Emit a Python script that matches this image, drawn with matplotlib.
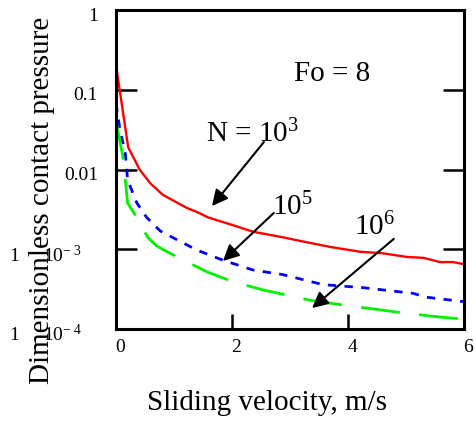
import matplotlib
matplotlib.use("Agg")
import matplotlib.pyplot as plt
import matplotlib.transforms as mtransforms

plt.rcParams['font.family'] = ['Liberation Serif', 'DejaVu Serif']
plt.rcParams['mathtext.fontset'] = 'custom'
plt.rcParams['mathtext.rm'] = 'Liberation Serif'
plt.rcParams['mathtext.it'] = 'Liberation Serif:italic'
plt.rcParams['mathtext.bf'] = 'Liberation Serif:bold'

# ---- data ----
v_n3 = [0.0, 0.21, 0.41, 0.60, 0.81, 1.22, 1.41, 1.59, 2.02, 2.36, 2.88, 3.09, 3.69, 4.21, 4.60, 5.02, 5.30, 5.59, 5.81, 6.0]
p_n3 = [0.204, 0.019, 0.0099, 0.0066, 0.0048, 0.0033, 0.0029, 0.0025, 0.0020, 0.00166, 0.00141, 0.00131, 0.00107,
        0.00093, 0.00089, 0.00080, 0.00078, 0.00069, 0.00069, 0.00065]

v_n5 = [0.0, 0.07, 0.16, 0.20, 0.36, 0.53, 0.76, 0.98, 1.39, 1.84, 2.36, 2.88, 3.57, 4.26, 5.12, 5.36, 6.0]
p_n5 = [0.068, 0.031, 0.016, 0.0074, 0.0038, 0.0025, 0.0017, 0.0014, 0.00098, 0.00073, 0.00055, 0.00048, 0.00036,
        0.00033, 0.00028, 0.00025, 0.00022]

v_n6 = [0.0, 0.12, 0.20, 0.33, 0.55, 0.70, 0.93, 1.57, 2.02, 2.53, 3.34, 3.91, 4.55, 4.95, 5.59, 6.0]
p_n6 = [0.040, 0.0144, 0.0038, 0.0027, 0.0014, 0.0011, 0.00089, 0.00052, 0.00039, 0.00031, 0.00023, 0.00020,
        0.000174, 0.000159, 0.000141, 0.000133]

x_ticks = [0, 2, 4, 6]
x_tick_labels = ["0", "2", "4", "6"]
y_ticks = [1e-4, 1e-3, 1e-2, 1e-1, 1]
y_tick_labels = [r"1     10$^{-\;4}$", r"1     10$^{-\;3}$", "0.01", "0.1", "1"]

fig = plt.figure(figsize=(4.76, 4.21), dpi=100)
ax = fig.add_axes([116/476, 1-329/421, 348/476, 319/421])

ax.plot(v_n3, p_n3, color=(1, 0, 0), lw=1.7)
ax.plot(v_n5, p_n5, color=(0, 0, 1), lw=2.0, dashes=(3, 3))
ax.plot(v_n6, p_n6, color=(0, 0.95, 0), lw=2.0, dashes=(14, 7))

ax.set_yscale('log')
ax.set_xlim(0, 6)
ax.set_ylim(1e-4, 1)
ax.set_xticks(x_ticks)
ax.set_xticklabels(x_tick_labels)
ax.set_yticks(y_ticks)
ax.set_yticklabels(y_tick_labels)
ax.minorticks_off()

for s in ax.spines.values():
    s.set_linewidth(2.2)

ax.tick_params(axis='y', which='major', direction='in', length=15, width=1.8, left=True, right=True,
               labelsize=14, pad=13)
ax.tick_params(axis='x', which='major', direction='in', length=11, width=1.8, top=False,
               labelsize=14, pad=7)

# nudge tick labels like the reference
off = mtransforms.ScaledTranslation(0, -4/100, fig.dpi_scale_trans)
for lab in ax.get_yticklabels():
    lab.set_transform(lab.get_transform() + off)
for lab in ax.get_yticklabels()[:2]:
    lab.set_transform(lab.get_transform() + mtransforms.ScaledTranslation(-16/100, 0, fig.dpi_scale_trans))
xoff = mtransforms.ScaledTranslation(4/100, 0, fig.dpi_scale_trans)
for lab in ax.get_xticklabels():
    lab.set_transform(lab.get_transform() + xoff)

fig.text(42/476, 1-200/421, "Dimensionless contact pressure", rotation=90, ha='center', va='center', fontsize=21)
fig.text(267/476, 1-403/421, "Sliding velocity, m/s", ha='center', va='center', fontsize=21)

ax.text(3.07, 0.1288, "Fo = 8", fontsize=21, ha='left', va='baseline')
ax.text(1.552, 0.0221, r"N = 10$^3$", fontsize=21, ha='left', va='baseline')
ax.text(2.69, 0.00269, r"10$^5$", fontsize=21, ha='left', va='baseline')
ax.text(4.10, 0.00151, r"10$^6$", fontsize=21, ha='left', va='baseline')

arrow_kw = dict(arrowstyle='-|>', color='black', lw=1.5, mutation_scale=24, shrinkA=0, shrinkB=0)
ax.annotate('', xy=(1.655, 0.00348), xytext=(2.55, 0.0221), arrowprops=arrow_kw)
ax.annotate('', xy=(1.845, 7.13e-4), xytext=(2.72, 0.00285), arrowprops=arrow_kw)
ax.annotate('', xy=(3.38, 1.83e-4), xytext=(4.79, 1.35e-3), arrowprops=arrow_kw)

fig.savefig("out.png", dpi=100)
